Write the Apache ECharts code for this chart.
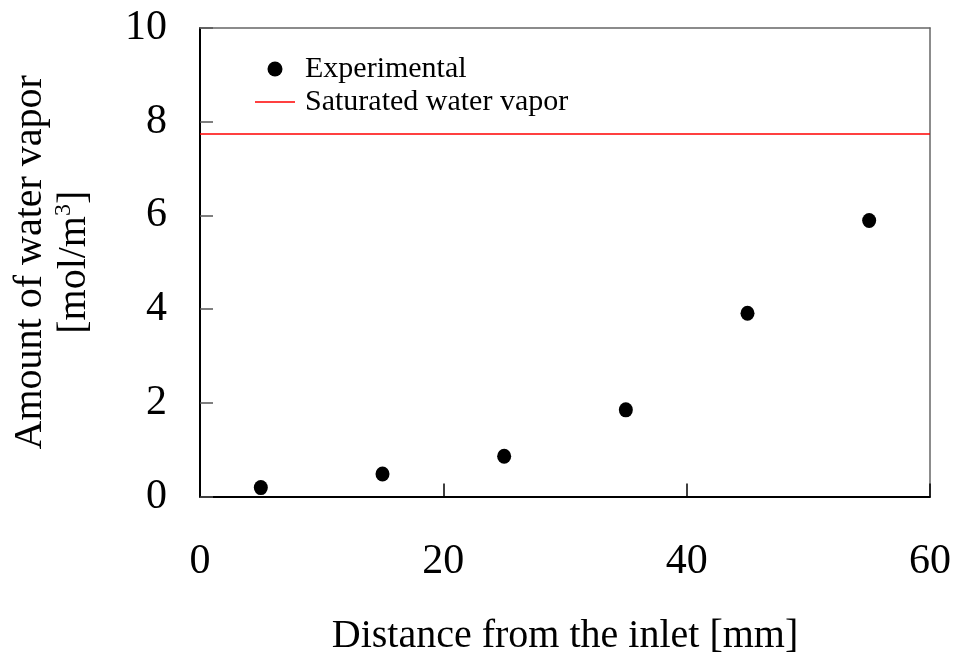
<!DOCTYPE html>
<html>
<head>
<meta charset="utf-8">
<script src="https://cdn.jsdelivr.net/npm/echarts@6/dist/echarts.min.js"></script>
<style>html,body{margin:0;padding:0;background:#fff;}#c{width:954px;height:655px;}</style>
</head>
<body>
<div id="c"></div>
<script>
const distance = [5, 15, 25, 35, 45, 55];
const vapor = [0.19, 0.48, 0.86, 1.85, 3.91, 5.89];
const saturatedX = [0, 60];
const saturatedValue = 7.74;
const xTicks = [0, 20, 40, 60];
const yTicks = [0, 2, 4, 6, 8, 10];

const FONT = '"Liberation Serif", "Times New Roman", serif';
const chart = echarts.init(document.getElementById('c'));
chart.setOption({
  animation: false,
  backgroundColor: '#fff',
  textStyle: { fontFamily: FONT, color: '#000' },
  grid: { left: 200, right: 24, top: 28, bottom: 158.5, containLabel: false, outerBoundsMode: 'none' },
  legend: {
    orient: 'vertical', left: 250, top: 49, itemWidth: 40, itemHeight: 15, itemGap: 3,
    textStyle: { fontFamily: FONT, fontSize: 30, lineHeight: 30, color: '#000', padding: [0, 0, 0, 5] },
    data: [
      { name: 'Experimental', icon: 'circle' },
      { name: 'Saturated water vapor', icon: 'path://M0,0L40,0L40,1.4L0,1.4Z' }
    ]
  },
  xAxis: [{
    type: 'value', min: xTicks[0], max: xTicks[xTicks.length - 1], interval: 20,
    name: 'Distance from the inlet [mm]', nameLocation: 'middle', nameGap: 120,
    nameTextStyle: { fontFamily: FONT, fontSize: 40, color: '#000' },
    axisLine: { show: true, onZero: false, lineStyle: { color: '#000', width: 2 } },
    axisTick: { show: true, inside: true, length: 13, lineStyle: { color: '#000', width: 1.5 } },
    axisLabel: { fontFamily: FONT, fontSize: 42, color: '#000', margin: 44 },
    splitLine: { show: false }
  }, {
    type: 'value', min: xTicks[0], max: xTicks[xTicks.length - 1], interval: 20, position: 'top',
    axisLine: { show: true, onZero: false, lineStyle: { color: '#666', width: 1.5 } },
    axisTick: { show: false }, axisLabel: { show: false }, splitLine: { show: false }
  }],
  yAxis: [{
    type: 'value', min: yTicks[0], max: yTicks[yTicks.length - 1], interval: 2,
    name: '{a|Amount of water vapor}\n{a|[mol/m}{s|3}{a|]}', nameLocation: 'middle', nameGap: 104,
    nameRotate: 90,
    nameTextStyle: {
      fontFamily: FONT, color: '#000', lineHeight: 44,
      rich: {
        a: { fontFamily: FONT, fontSize: 40, color: '#000', lineHeight: 44 },
        s: { fontFamily: FONT, fontSize: 24, color: '#000', verticalAlign: 'top', lineHeight: 44, padding: [0, 0, 14, 0] }
      }
    },
    axisLine: { show: true, onZero: false, lineStyle: { color: '#000', width: 2 } },
    axisTick: { show: true, inside: true, length: 13, lineStyle: { color: '#555', width: 1.5 } },
    axisLabel: { fontFamily: FONT, fontSize: 42, color: '#000', margin: 33 },
    splitLine: { show: false }
  }, {
    type: 'value', min: yTicks[0], max: yTicks[yTicks.length - 1], interval: 2, position: 'right',
    axisLine: { show: true, onZero: false, lineStyle: { color: '#666', width: 1.5 } },
    axisTick: { show: false }, axisLabel: { show: false }, splitLine: { show: false }
  }],
  series: [{
    name: 'Experimental', type: 'scatter', symbol: 'circle', symbolSize: [14, 15],
    itemStyle: { color: '#000', opacity: 1 },
    data: distance.map((d, i) => [d, vapor[i]])
  }, {
    name: 'Saturated water vapor', type: 'line', symbol: 'none',
    lineStyle: { color: '#ff0000', width: 1.5 }, itemStyle: { color: '#ff0000' },
    data: saturatedX.map(x => [x, saturatedValue])
  }]
});
</script>
</body>
</html>
